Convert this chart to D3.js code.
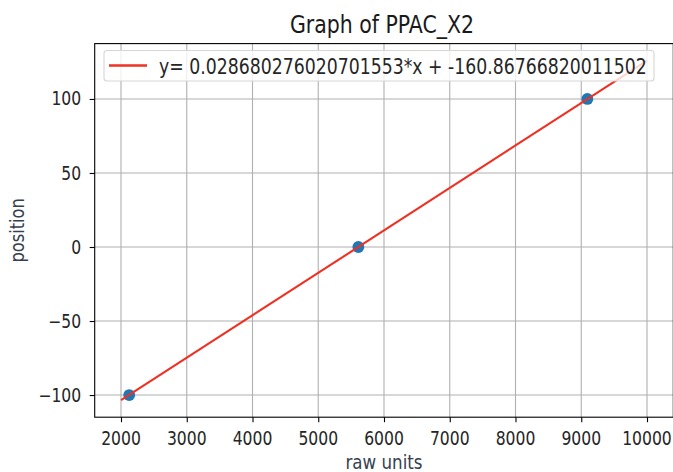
<!DOCTYPE html>
<html>
<head>
<meta charset="utf-8">
<script src="https://cdn.jsdelivr.net/npm/d3@7"></script>
<style>
  html, body { margin: 0; padding: 0; background: #fff; }
  svg { display: block; font-family: "DejaVu Sans", sans-serif; }
</style>
</head>
<body>
<svg id="chart" width="673" height="472"></svg>
<script>
// Calibration points: raw PPAC readings vs known positions
const rawUnits = [2125, 5610, 9093];
const positions = [-100, 0, 100];

// Linear fit coefficients
const slope = 0.028680276020701553;
const intercept = -160.86766820011502;
const fitRange = [2000, 10000];

const xTicks = [2000, 3000, 4000, 5000, 6000, 7000, 8000, 9000, 10000];
const yTicks = [-100, -50, 0, 50, 100];

const titleText = "Graph of PPAC_X2";
const xLabel = "raw units";
const yLabel = "position";
const legendText = "y= " + slope + "*x + " + intercept;

const svg = d3.select("#chart");
const plot = { left: 94.7, right: 673.3, top: 43.6, bottom: 417.2 };
const stretch = 1.2;   // glyphs are drawn a little taller than wide

// Axis limits with 5% padding around the fitted line's extent
const fitY = fitRange.map(v => slope * v + intercept);
const xPad = (fitRange[1] - fitRange[0]) * 0.05;
const yPad = (fitY[1] - fitY[0]) * 0.05;

const x = d3.scaleLinear()
  .domain([fitRange[0] - xPad, fitRange[1] + xPad])
  .range([plot.left, plot.right]);
const y = d3.scaleLinear()
  .domain([fitY[0] - yPad, fitY[1] + yPad])
  .range([plot.bottom, plot.top]);

// Text helper: positioned by transform so the glyphs can be stretched
function label(parent, tx, ty, str, size, opts = {}) {
  const rot = opts.rotate ? ` rotate(${opts.rotate})` : "";
  return parent.append("text")
    .attr("transform", `translate(${tx},${ty})${rot} scale(1,${stretch})`)
    .attr("text-anchor", opts.anchor || "start")
    .attr("dominant-baseline", opts.baseline || "alphabetic")
    .attr("fill", opts.fill || "#262626")
    .style("font-size", size + "px")
    .text(str);
}

// Grid
const grid = svg.append("g");
grid.selectAll("line.gx").data(xTicks).join("line")
  .attr("x1", d => x(d)).attr("x2", d => x(d))
  .attr("y1", plot.top).attr("y2", plot.bottom)
  .attr("stroke", "#b0b0b0").attr("stroke-width", 1.1);
grid.selectAll("line.gy").data(yTicks).join("line")
  .attr("y1", d => y(d)).attr("y2", d => y(d))
  .attr("x1", plot.left).attr("x2", plot.right)
  .attr("stroke", "#b0b0b0").attr("stroke-width", 1.1);

// Scatter points
svg.append("g").selectAll("circle").data(rawUnits).join("circle")
  .attr("cx", d => x(d))
  .attr("cy", (d, i) => y(positions[i]))
  .attr("r", 5.9)
  .attr("fill", "#1f77b4");

// Fitted line
svg.append("line")
  .attr("x1", x(fitRange[0])).attr("y1", y(fitY[0]))
  .attr("x2", x(fitRange[1])).attr("y2", y(fitY[1]))
  .attr("stroke", "#ee3124").attr("stroke-width", 2.1);

// Axes: tick marks from d3 axes, labels drawn with the stretch helper
const xAxis = d3.axisBottom(x).tickValues(xTicks).tickFormat("").tickSize(5);
const yAxis = d3.axisLeft(y).tickValues(yTicks).tickFormat("").tickSize(5);
const gx = svg.append("g").attr("transform", `translate(0,${plot.bottom})`).call(xAxis);
const gy = svg.append("g").attr("transform", `translate(${plot.left},0)`).call(yAxis);
[gx, gy].forEach(g => {
  g.select(".domain").remove();
  g.selectAll(".tick line").attr("stroke", "#000").attr("stroke-width", 1.1);
  g.selectAll(".tick text").remove();
});
const fmtY = d => d < 0 ? "\u2212" + Math.abs(d) : String(d);
xTicks.forEach(t => label(svg, x(t), 445, String(t), 15.6, { anchor: "middle" }));
yTicks.forEach(t => label(svg, plot.left - 13.5, y(t), fmtY(t), 15.6, { anchor: "end", baseline: "central" }));

// Frame
svg.append("rect")
  .attr("x", plot.left).attr("y", plot.top)
  .attr("width", plot.right - plot.left).attr("height", plot.bottom - plot.top)
  .attr("fill", "none").attr("stroke", "#000").attr("stroke-width", 1.1);

// Legend
const lg = svg.append("g");
lg.append("rect")
  .attr("x", 104).attr("y", 50.5).attr("width", 550).attr("height", 30.5)
  .attr("rx", 3).attr("fill", "#fff").attr("fill-opacity", 0.8)
  .attr("stroke", "#d6d6d6").attr("stroke-width", 1.1);
lg.append("line")
  .attr("x1", 109).attr("x2", 147).attr("y1", 65.5).attr("y2", 65.5)
  .attr("stroke", "#ee3124").attr("stroke-width", 2.3);
label(lg, 159, 73.5, legendText, 17.3);

// Title and axis labels
label(svg, 382, 33, titleText, 20.5, { anchor: "middle", fill: "#1a1a1a" });
label(svg, 384, 469, xLabel, 16.7, { anchor: "middle", fill: "#36404f" });
label(svg, 24, (plot.top + plot.bottom) / 2, yLabel, 16.2, { anchor: "middle", fill: "#36404f", rotate: -90 });
</script>
</body>
</html>
